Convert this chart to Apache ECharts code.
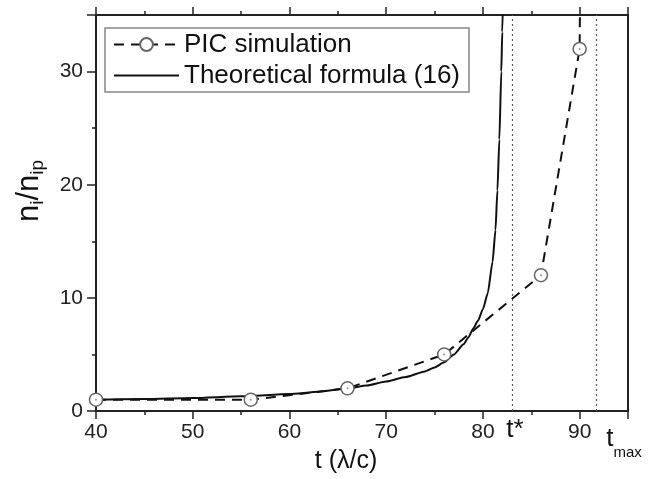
<!DOCTYPE html>
<html>
<head>
<meta charset="utf-8">
<script src="https://cdn.jsdelivr.net/npm/echarts@6/dist/echarts.min.js"></script>
<style>
html,body{margin:0;padding:0;background:#fff;}
#chart{width:655px;height:479px;}
</style>
</head>
<body>
<div id="chart"></div>
<script>
// ---- data ----
const picT = [40, 56, 66, 76, 86, 90, 92];
const picN = [1, 1, 2, 5, 12, 32, 250];
const theoT = [40, 45, 50, 55, 60, 63, 66, 68, 70, 72, 74, 75, 76, 77, 78, 78.5, 79, 79.5, 80, 80.5, 81, 81.3, 81.5, 81.7, 81.9, 82.0, 82.1];
const theoN = [1.0, 1.05, 1.15, 1.3, 1.5, 1.7, 2.0, 2.25, 2.6, 3.0, 3.5, 3.85, 4.3, 5.0, 5.9, 6.5, 7.3, 8.0, 9.0, 10.4, 13.2, 16, 19.5, 24, 30, 33.5, 37];
const tStar = 83.0;
const tMax = 91.7;
const xTicks = [40, 50, 60, 70, 80, 90];
const yTicks = [0, 10, 20, 30];
const seriesNames = ['PIC simulation', 'Theoretical formula (16)'];

const FONT = 'Liberation Sans, Arial, sans-serif';
const AX = '#222';

const chart = echarts.init(document.getElementById('chart'), null, {renderer: 'canvas'});

function xAxisBase(pos) {
  return {
    type: 'value', position: pos, min: 40, max: 95, interval: 10,
    axisLine: {show: true, onZero: false, lineStyle: {color: AX, width: 2}},
    axisTick: {show: true, inside: false, length: 8, lineStyle: {color: AX, width: 1.5}},
    minorTick: {show: true, splitNumber: 2, length: 4, lineStyle: {color: AX, width: 1.5}},
    splitLine: {show: false},
    axisLabel: {show: pos === 'bottom', color: AX, fontFamily: FONT, fontSize: 21, margin: 11,
      formatter: v => xTicks.indexOf(v) >= 0 ? String(v) : ''}
  };
}

const option = {
  backgroundColor: '#fff',
  animation: false,
  grid: {left: 96, right: 27, top: 15, bottom: 68, containLabel: false},
  legend: {
    data: [{name: seriesNames[0]}, {name: seriesNames[1], itemStyle: {opacity: 0}}],
    orient: 'vertical',
    left: 105, top: 28,
    padding: [2, 9, 2, 8],
    itemGap: 2,
    itemWidth: 65, itemHeight: 16,
    backgroundColor: '#fff',
    borderColor: '#888', borderWidth: 1.5, borderRadius: 0,
    textStyle: {fontFamily: FONT, fontSize: 26, color: '#111', lineHeight: 29}
  },
  xAxis: [
    Object.assign(xAxisBase('bottom'), {
      name: 't (λ/c)', nameLocation: 'middle', nameGap: 38,
      nameTextStyle: {fontFamily: FONT, fontSize: 25, color: '#111', padding: [0, 32, 0, 0]}
    }),
    xAxisBase('top')
  ],
  yAxis: [
    {
      type: 'value', position: 'left', min: 0, max: 35, interval: 10,
      axisLine: {show: true, onZero: false, lineStyle: {color: AX, width: 2}},
      axisTick: {show: true, inside: false, length: 9, lineStyle: {color: AX, width: 1.5}},
      minorTick: {show: true, splitNumber: 2, length: 4, lineStyle: {color: AX, width: 1.5}},
      splitLine: {show: false},
      axisLabel: {color: AX, fontFamily: FONT, fontSize: 21, margin: 13,
        formatter: v => yTicks.indexOf(v) >= 0 ? String(v) : ''},
      name: 'n{s|i}/n{s|ip}', nameLocation: 'middle', nameGap: 49, nameRotate: 90,
      nameTextStyle: {fontFamily: FONT, fontSize: 31, color: '#111', padding: [0, 0, 0, 44],
        rich: {s: {fontFamily: FONT, fontSize: 19, color: '#111', verticalAlign: 'bottom', padding: [17, 0, 0, 0]}}}
    },
    {
      type: 'value', position: 'right', min: 0, max: 35, interval: 10,
      axisLine: {show: true, onZero: false, lineStyle: {color: AX, width: 2}},
      axisTick: {show: false}, axisLabel: {show: false}, splitLine: {show: false}
    }
  ],
  series: [
    {
      name: seriesNames[0], type: 'line',
      data: picT.map((t, i) => [t, picN[i]]),
      symbol: 'circle', symbolSize: 13, showSymbol: true,
      itemStyle: {color: '#fff', borderColor: '#666', borderWidth: 1.5},
      lineStyle: {color: '#111', width: 2, type: [10, 7]},
      clip: true, z: 3
    },
    {
      name: seriesNames[0] + ' centre', type: 'scatter',
      data: picT.map((t, i) => [t, picN[i]]),
      symbol: 'circle', symbolSize: 2,
      itemStyle: {color: '#777'}, z: 4, silent: true
    },
    {
      name: seriesNames[1], type: 'line',
      data: theoT.map((t, i) => [t, theoN[i]]),
      symbol: 'none', showSymbol: false,
      smooth: 0.2, smoothMonotone: 'x',
      itemStyle: {color: '#111'},
      lineStyle: {color: '#111', width: 2},
      clip: true, z: 2,
      markLine: {
        silent: true, symbol: ['none', 'none'],
        lineStyle: {color: '#555', type: [2, 3], width: 1.2},
        label: {show: true, position: 'start', fontFamily: FONT, color: '#111'},
        data: [
          [{coord: [tStar, 0], label: {formatter: 't*', fontSize: 26, distance: 6, offset: [3, 0]}}, {coord: [tStar, 35]}],
          [{coord: [tMax, 0], label: {formatter: '{t|t}{m|max}', distance: 6, offset: [28, 0],
            rich: {t: {fontFamily: FONT, fontSize: 26, color: '#111'}, m: {fontFamily: FONT, fontSize: 15, color: '#111', verticalAlign: 'bottom', padding: [28, 0, 0, 0]}}}},
           {coord: [tMax, 35]}]
        ]
      }
    }
  ]
};
chart.setOption(option);
</script>
</body>
</html>
